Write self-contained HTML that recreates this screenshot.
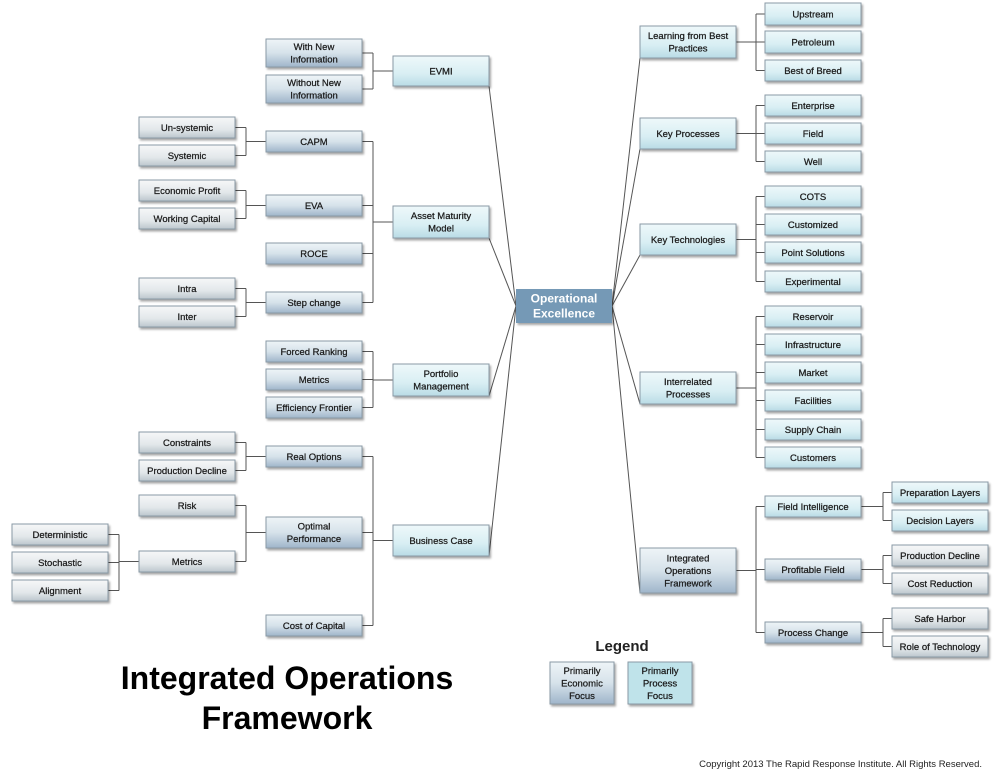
<!DOCTYPE html>
<html><head><meta charset="utf-8"><style>
html,body{margin:0;padding:0;background:#fff;width:1000px;height:772px;overflow:hidden}
svg{display:block}
text{font-family:"Liberation Sans",sans-serif}
</style></head><body>
<svg id="s" width="1000" height="772" xmlns="http://www.w3.org/2000/svg">
<defs>
<linearGradient id="econ" x1="0" y1="0" x2="0" y2="1"><stop offset="0" stop-color="#eef4f7"/><stop offset="0.5" stop-color="#d6e2ea"/><stop offset="1" stop-color="#9fb5ca"/></linearGradient>
<linearGradient id="proc" x1="0" y1="0" x2="0" y2="1"><stop offset="0" stop-color="#eef8fa"/><stop offset="0.6" stop-color="#d8eef3"/><stop offset="1" stop-color="#b9dbe5"/></linearGradient>
<linearGradient id="grey" x1="0" y1="0" x2="0" y2="1"><stop offset="0" stop-color="#f6f7f8"/><stop offset="0.6" stop-color="#e2e7ea"/><stop offset="1" stop-color="#bcc6cd"/></linearGradient>
<filter id="sh" x="-10%" y="-10%" width="130%" height="140%"><feDropShadow dx="1.5" dy="2" stdDeviation="1" flood-color="#000" flood-opacity="0.35"/></filter>
</defs>
<g id="lines" stroke="#555" stroke-width="1" fill="none"></g>
<g id="boxes"></g>
<text x="287" y="689" font-size="32" font-weight="bold" text-anchor="middle" fill="#000">Integrated Operations</text>
<text x="287" y="729" font-size="32" font-weight="bold" text-anchor="middle" fill="#000">Framework</text>
<text x="622" y="651" font-size="15" font-weight="bold" text-anchor="middle" fill="#222">Legend</text>
<text x="982" y="767" font-size="9.5" text-anchor="end" fill="#222">Copyright 2013 The Rapid Response Institute.  All Rights Reserved.</text>
</svg>
<script>
var B={};
function box(id,x,y,w,h,t,st){B[id]={x:x,y:y,w:w,h:h};var g=document.getElementById('boxes');
var ns='http://www.w3.org/2000/svg';var r=document.createElementNS(ns,'rect');
r.setAttribute('x',x);r.setAttribute('y',y);r.setAttribute('width',w);r.setAttribute('height',h);
if(st=='center'){r.setAttribute('fill','#7499b6');}else{r.setAttribute('fill','url(#'+st+')');r.setAttribute('stroke','#8a9aa6');r.setAttribute('stroke-width','1');}
r.setAttribute('filter','url(#sh)');g.appendChild(r);
var lines=t.split('|');var fs=st=='center'?12:9.5;var lh=st=='center'?15:12.5;
var y0=y+h/2-(lines.length-1)*lh/2+fs*0.35;
lines.forEach(function(l,i){var tx=document.createElementNS(ns,'text');tx.setAttribute('x',x+w/2);tx.setAttribute('y',y0+i*lh);
tx.setAttribute('text-anchor','middle');tx.setAttribute('font-size',fs);
if(st=='center'){tx.setAttribute('fill','#fff');tx.setAttribute('font-weight','bold');}else{tx.setAttribute('fill','#1a1a1a');tx.setAttribute('stroke','#1a1a1a');tx.setAttribute('stroke-width','0.25');}
tx.textContent=l;g.appendChild(tx);});}
function ln(d){var p=document.createElementNS('http://www.w3.org/2000/svg','path');p.setAttribute('d',d);document.getElementById('lines').appendChild(p);}
var A=12,Bx=139,C=266,D=393,W=96;
[['det',A,524,545,'Deterministic','grey'],['sto',A,552,573,'Stochastic','grey'],['ali',A,580,601,'Alignment','grey'],
['uns',Bx,117,138,'Un-systemic','grey'],['sys',Bx,145,166,'Systemic','grey'],['ep',Bx,180,201,'Economic Profit','grey'],['wc',Bx,208,229,'Working Capital','grey'],
['intra',Bx,278,299,'Intra','grey'],['inter',Bx,306,327,'Inter','grey'],['con',Bx,432,453,'Constraints','grey'],['pd',Bx,460,481,'Production Decline','grey'],
['risk',Bx,495,516,'Risk','grey'],['met2',Bx,551,572,'Metrics','grey'],
['wni',C,39,67,'With New|Information','econ'],['woni',C,75,103,'Without New|Information','econ'],['capm',C,131,152,'CAPM','econ'],['eva',C,195,216,'EVA','econ'],
['roce',C,243,264,'ROCE','econ'],['sc',C,292,313,'Step change','econ'],['fr',C,341,362,'Forced Ranking','econ'],['met',C,369,390,'Metrics','econ'],
['ef',C,397,418,'Efficiency Frontier','econ'],['ro',C,446,467,'Real Options','econ'],['op',C,517,548,'Optimal|Performance','econ'],['coc',C,615,636,'Cost of Capital','econ'],
['evmi',D,56,86,'EVMI','proc'],['amm',D,206,238,'Asset Maturity|Model','proc'],['pm',D,364,396,'Portfolio|Management','proc'],['bc',D,525,556,'Business Case','proc']
].forEach(function(a){B[a[0]]={x:a[1],y:a[2],w:W,h:a[3]-a[2],t:a[4],s:a[5]};});
var E=640,F=765,G=892;
[['lbp',E,26,58,'Learning from Best|Practices','proc'],['kp',E,118,149,'Key Processes','proc'],['kt',E,224,255,'Key Technologies','proc'],
['ip',E,372,404,'Interrelated|Processes','proc'],['iof',E,548,593,'Integrated|Operations|Framework','econ'],
['up',F,3,25,'Upstream','proc'],['pet',F,31,53,'Petroleum','proc'],['bob',F,60,81,'Best of Breed','proc'],['ent',F,95,116,'Enterprise','proc'],
['fld',F,123,144,'Field','proc'],['well',F,151,172,'Well','proc'],['cots',F,186,207,'COTS','proc'],['cus',F,214,235,'Customized','proc'],
['ps',F,242,263,'Point Solutions','proc'],['exp',F,271,292,'Experimental','proc'],['res',F,306,327,'Reservoir','proc'],['inf',F,334,355,'Infrastructure','proc'],
['mkt',F,362,383,'Market','proc'],['fac',F,390,411,'Facilities','proc'],['sup',F,419,440,'Supply Chain','proc'],['cust',F,447,468,'Customers','proc'],
['fi',F,496,517,'Field Intelligence','proc'],['pf',F,559,580,'Profitable Field','econ'],['pc',F,622,643,'Process Change','econ'],
['prl',G,482,503,'Preparation Layers','proc'],['dl',G,510,531,'Decision Layers','proc'],['pd2',G,545,566,'Production Decline','grey'],
['cr',G,573,594,'Cost Reduction','grey'],['sh',G,608,629,'Safe Harbor','grey'],['rot',G,636,657,'Role of Technology','grey']
].forEach(function(a){B[a[0]]={x:a[1],y:a[2],w:W,h:a[3]-a[2],t:a[4],s:a[5]};});
B.center={x:516,y:289,w:96,h:34,t:'Operational|Excellence',s:'center'};
function cy(b){return B[b].y+B[b].h/2;}
function leftGroup(p,kids){var vx=B[kids[0]].x+W+11;var py=cy(p);var ys=kids.map(cy).concat([py]);
kids.forEach(function(k){ln('M'+(B[k].x+W)+' '+cy(k)+'H'+vx);});
ln('M'+vx+' '+Math.min.apply(null,ys)+'V'+Math.max.apply(null,ys));ln('M'+vx+' '+py+'H'+B[p].x);}
function rightGroup(p,kids){var vx=B[kids[0]].x-9;var py=cy(p);var ys=kids.map(cy).concat([py]);
kids.forEach(function(k){ln('M'+vx+' '+cy(k)+'H'+B[k].x);});
ln('M'+vx+' '+Math.min.apply(null,ys)+'V'+Math.max.apply(null,ys));ln('M'+(B[p].x+W)+' '+py+'H'+vx);}
leftGroup('met2',['det','sto','ali']);leftGroup('capm',['uns','sys']);leftGroup('eva',['ep','wc']);leftGroup('sc',['intra','inter']);
leftGroup('ro',['con','pd']);leftGroup('op',['risk','met2']);
leftGroup('evmi',['wni','woni']);leftGroup('amm',['capm','eva','roce','sc']);leftGroup('pm',['fr','met','ef']);leftGroup('bc',['ro','op','coc']);
rightGroup('lbp',['up','pet','bob']);rightGroup('kp',['ent','fld','well']);rightGroup('kt',['cots','cus','ps','exp']);
rightGroup('ip',['res','inf','mkt','fac','sup','cust']);rightGroup('iof',['fi','pf','pc']);
rightGroup('fi',['prl','dl']);rightGroup('pf',['pd2','cr']);rightGroup('pc',['sh','rot']);
['evmi','amm','pm','bc'].forEach(function(p){ln('M'+(B[p].x+W)+' '+(B[p].y+B[p].h)+'L516 306');});
['lbp','kp','kt','ip','iof'].forEach(function(p){ln('M'+B[p].x+' '+(B[p].y+B[p].h)+'L612 306');});
for(var k in B){var b=B[k];box(k,b.x,b.y,b.w,b.h,b.t,b.s);}
box('lg1',550,662,64,42,'Primarily|Economic|Focus','econ');
box('lg2',628,662,64,42,'Primarily|Process|Focus','proc');
document.querySelectorAll('#boxes rect')[document.querySelectorAll('#boxes rect').length-1].setAttribute('fill','#bfe3ea');
</script>
</body></html>
